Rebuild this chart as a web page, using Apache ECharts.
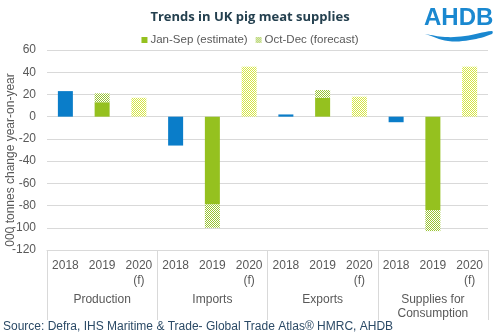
<!DOCTYPE html>
<html>
<head>
<meta charset="utf-8">
<script src="https://cdn.jsdelivr.net/npm/echarts@6/dist/echarts.min.js"></script>
<style>
  html, body { margin: 0; padding: 0; background: #fff; }
  #main { width: 500px; height: 335px; }
</style>
</head>
<body>
<div id="main"></div>
<script>
// change in 000 tonnes, year-on-year
var groups = ['Production', 'Imports', 'Exports', 'Supplies for\nConsumption'];
var years = ['2018', '2019', '2020\n(f)'];
var actual2018 = [23, -26, 2, -5];
var janSep2019 = [13, -79, 17, -84];
var octDec2019 = [8, -21, 7, -19];
var forecast2020 = [17, 45, 18, 45];
var yTicks = [-120, -100, -80, -60, -40, -20, 0, 20, 40, 60];

var BLUE = '#0a7dc9';
var GREEN = '#95c11f';

// small checker tile for the hatched forecast bars
function hatch(fg) {
  var c = document.createElement('canvas');
  c.width = 4; c.height = 4;
  var ctx = c.getContext('2d');
  ctx.fillStyle = '#ffffff';
  ctx.fillRect(0, 0, 4, 4);
  ctx.fillStyle = fg;
  for (var x = 0; x < 4; x++) {
    for (var y = 0; y < 4; y++) {
      if ((x + y) % 2 === 0) ctx.fillRect(x, y, 1, 1);
    }
  }
  return { image: c, repeat: 'repeat' };
}
var greenHatch = hatch('#98c332');
var yellowHatch = hatch('#d6e645');

// flatten groups x years into 12 slots
var cats = [];
var s2018 = [], sJanSep = [], sOctDec = [];
groups.forEach(function (g, i) {
  years.forEach(function (y, j) {
    cats.push(y);
    s2018.push(j === 0 ? actual2018[i] : null);
    sJanSep.push(j === 1 ? janSep2019[i] : null);
    if (j === 1) sOctDec.push(octDec2019[i]);
    else if (j === 2) sOctDec.push({ value: forecast2020[i], itemStyle: { color: yellowHatch } });
    else sOctDec.push(null);
  });
});

var myChart = echarts.init(document.getElementById('main'));
var option = {
  animation: false,
  textStyle: { fontFamily: 'Liberation Sans, Arial, sans-serif' },
  title: {
    text: 'Trends in UK pig meat supplies',
    left: 'center',
    top: 6,
    textStyle: { fontSize: 13, fontWeight: 'bold', color: '#24404f', fontFamily: 'Open Sans, sans-serif' }
  },
  legend: {
    data: ['Jan-Sep (estimate)', 'Oct-Dec (forecast)'],
    top: 29,
    left: 'center',
    itemWidth: 6,
    itemHeight: 6,
    itemGap: 8,
    icon: 'rect',
    textStyle: { fontSize: 11.5, color: '#595959', padding: [0, 0, 0, -2] }
  },
  grid: { left: 47, right: 12, top: 50, bottom: 85, outerBoundsMode: 'none' },
  xAxis: [
    {
      type: 'category',
      data: cats,
      position: 'bottom',
      axisLine: { show: false },
      axisTick: { show: false },
      axisLabel: { interval: 0, fontSize: 12, color: '#595959', margin: 8, lineHeight: 15 }
    },
    {
      type: 'category',
      data: groups,
      position: 'bottom',
      axisLine: { show: true, lineStyle: { color: '#d9d9d9' } },
      axisTick: { show: true, length: 70, interval: 0, lineStyle: { color: '#d9d9d9' } },
      axisLabel: { interval: 0, fontSize: 12, color: '#595959', margin: 43, lineHeight: 14 }
    }
  ],
  yAxis: {
    type: 'value',
    min: yTicks[0],
    max: yTicks[yTicks.length - 1],
    interval: 20,
    axisLine: { show: false },
    axisTick: { show: false },
    axisLabel: { fontSize: 12, color: '#595959', margin: 11 },
    splitLine: { lineStyle: { color: '#d9d9d9' } }
  },
  series: [
    { name: '2018', type: 'bar', stack: 'all', barWidth: 15, data: s2018, itemStyle: { color: BLUE } },
    { name: 'Jan-Sep (estimate)', type: 'bar', stack: 'all', barWidth: 15, data: sJanSep, itemStyle: { color: GREEN } },
    { name: 'Oct-Dec (forecast)', type: 'bar', stack: 'all', barWidth: 15, data: sOctDec, itemStyle: { color: greenHatch } }
  ],
  graphic: [
    {
      // y-axis title, rotated
      type: 'text', x: 11, y: 160, rotation: Math.PI / 2,
      style: { text: '000 tonnes change year-on-year', fontSize: 12, fill: '#595959', align: 'center', verticalAlign: 'middle' }
    },
    {
      type: 'text', left: 424, top: 6,
      style: { text: 'AHDB', fontSize: 24, fontWeight: 'bold', fill: '#1a88d0', fontFamily: 'Liberation Sans, Arial, sans-serif' }
    },
    {
      type: 'polygon',
      shape: {
        points: [[425, 34], [445, 37], [465, 36], [492, 31], [492, 34], [470, 40], [448, 41], [425, 34]],
        smooth: 0.4
      },
      style: { fill: '#1a88d0' }
    },
    {
      type: 'text', left: 3, top: 321,
      style: { text: 'Source: Defra, IHS Maritime & Trade- Global Trade Atlas\u00ae HMRC, AHDB', fontSize: 12, fill: '#2b4a66' }
    }
  ]
};
myChart.setOption(option);
</script>
</body>
</html>
